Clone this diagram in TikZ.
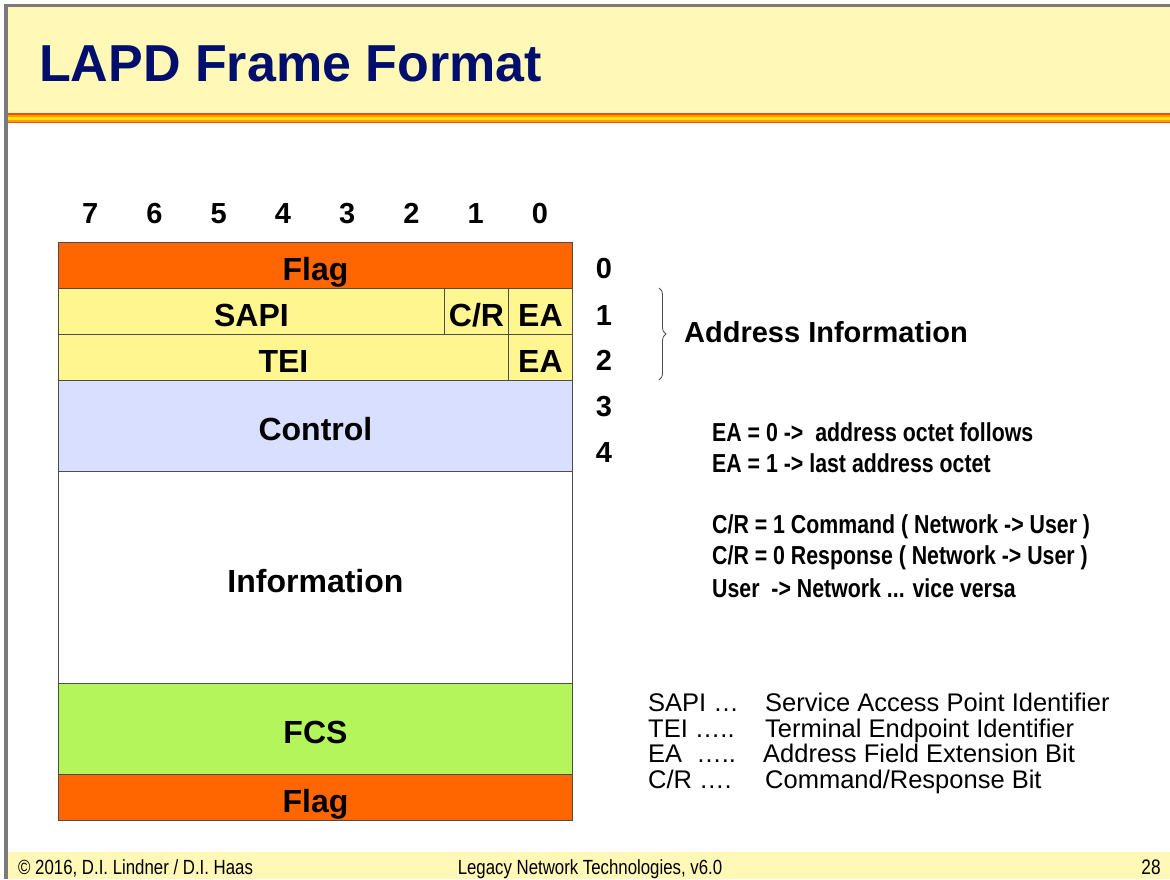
\documentclass[tikz,border=0pt]{standalone}
\usepackage{fontspec}
\setmainfont{Liberation Sans}
\newfontfamily\narrowfont[FakeStretch=0.82]{Liberation Sans}
\usetikzlibrary{decorations.pathreplacing}
\definecolor{titlebg}{HTML}{FFF8B6}
\definecolor{titleblue}{HTML}{000F6E}
\definecolor{flagor}{HTML}{FF6600}
\definecolor{addry}{HTML}{FFF68F}
\definecolor{ctrlb}{HTML}{D9E0FF}
\definecolor{fcsg}{HTML}{B3F55A}
\definecolor{stripered}{HTML}{E8501A}
\definecolor{stripeor}{HTML}{FF9A00}
\definecolor{stripey}{HTML}{FFE400}
\definecolor{edgegray}{HTML}{7A7A7A}
\begin{document}
\begin{tikzpicture}[x=1pt,y=-1pt,
  field/.style={draw=black!70, line width=0.9pt, inner sep=0pt, anchor=north west,
    font=\fontsize{32}{36}\selectfont\bfseries, text height=30pt, text depth=0pt},
  bitnum/.style={inner sep=0pt, font=\fontsize{29}{34}\selectfont\bfseries, text height=23pt, text depth=0pt},
  note/.style={inner sep=0pt, anchor=base west, font=\narrowfont\fontsize{26}{30}\selectfont\bfseries},
  legend/.style={inner sep=0pt, anchor=base west, font=\fontsize{25.5}{30}\selectfont},
  foot/.style={inner sep=0pt, anchor=base, font=\narrowfont\fontsize{20.5}{24}\selectfont}]
\useasboundingbox (0,0) rectangle (1170,879);
% slide background and frame
\fill[white] (0,0) rectangle (1170,879);
\fill[titlebg] (8,7) rectangle (1170,113);
\fill[stripered] (8,113) rectangle (1170,115);
\fill[stripeor] (8,115) rectangle (1170,117);
\fill[stripey] (8,117) rectangle (1170,119.5);
\fill[stripeor] (8,119.5) rectangle (1170,121.5);
\fill[stripered] (8,121.5) rectangle (1170,123);
\fill[titlebg] (8,852) rectangle (1170,879);
\fill[edgegray] (4,4) rectangle (1170,7);
\fill[edgegray] (4,4) rectangle (8,879);
% title
\node[inner sep=0pt, anchor=base west, text=titleblue, font=\fontsize{52}{58}\selectfont\bfseries] (title) at (39,81) {LAPD Frame Format};
% bit numbers
\foreach \b [count=\i from 0] in {7,6,5,4,3,2,1,0} {
  \node[bitnum] (bit\b) at ({90.1+64.25*\i},212) {\b};
}
% frame fields
\node[field, fill=flagor, minimum width=514pt, minimum height=46pt] (flagA) at (58,242) {Flag};
\node[field, fill=addry, minimum width=386pt, minimum height=46pt] (sapi) at (58,288) {SAPI};
\node[field, fill=addry, minimum width=64pt, minimum height=46pt] (cr) at (444,288) {C/R};
\node[field, fill=addry, minimum width=64pt, minimum height=46pt] (eaA) at (508,288) {EA};
\node[field, fill=addry, minimum width=450pt, minimum height=46pt] (tei) at (58,334) {TEI};
\node[field, fill=addry, minimum width=64pt, minimum height=46pt] (eaB) at (508,334) {EA};
\node[field, fill=ctrlb, minimum width=514pt, minimum height=91pt] (ctrl) at (58,380) {Control};
\node[field, fill=white, minimum width=514pt, minimum height=212pt] (info) at (58,471) {Information};
\node[field, fill=fcsg, minimum width=514pt, minimum height=91pt] (fcs) at (58,683) {FCS};
\node[field, fill=flagor, minimum width=514pt, minimum height=46pt] (flagB) at (58,774) {Flag};
% octet numbers
\foreach \o/\y in {0/267,1/314,2/359,3/405,4/451} {
  \node[bitnum] (oct\o) at (604,\y) {\o};
}
% brace
\coordinate (brtop) at (659,288);
\coordinate (brbot) at (659,380);
\draw[black!70, line width=0.8pt, decorate, decoration={brace, amplitude=7pt}] (brtop) -- (brbot);
\node[inner sep=0pt, anchor=base west, font=\fontsize{29}{34}\selectfont\bfseries] (addr) at (684,342.5) {Address Information};
% notes
\node[note] (n1) at (712,441) {EA = 0 ->\ \ address octet follows};
\node[note] (n2) at (712,472) {EA = 1 -> last address octet};
\node[note] (n3) at (712,533) {C/R = 1 Command ( Network -> User )};
\node[note] (n4) at (712,564) {C/R = 0 Response ( Network -> User )};
\node[note] (n5) at (712,597) {User\ \ -> Network ... vice versa};
% legend
\node[legend] (l1a) at (648,711) {SAPI …};
\node[legend] (l1b) at (765,711) {Service Access Point Identifier};
\node[legend] (l2a) at (648,737) {TEI …..};
\node[legend] (l2b) at (765,737) {Terminal Endpoint Identifier};
\node[legend] (l3a) at (648,762) {EA\ \ …..};
\node[legend] (l3b) at (763,762) {Address Field Extension Bit};
\node[legend] (l4a) at (648,788) {C/R ….};
\node[legend] (l4b) at (765,788) {Command/Response Bit};
% footer
\node[foot, anchor=base west] (f1) at (18,874) {© 2016, D.I. Lindner / D.I. Haas};
\node[foot] (f2) at (590,874) {Legacy Network Technologies, v6.0};
\node[foot, font=\narrowfont\fontsize{21}{24}\selectfont] (f3) at (1151,874) {28};
\end{tikzpicture}
\end{document}
